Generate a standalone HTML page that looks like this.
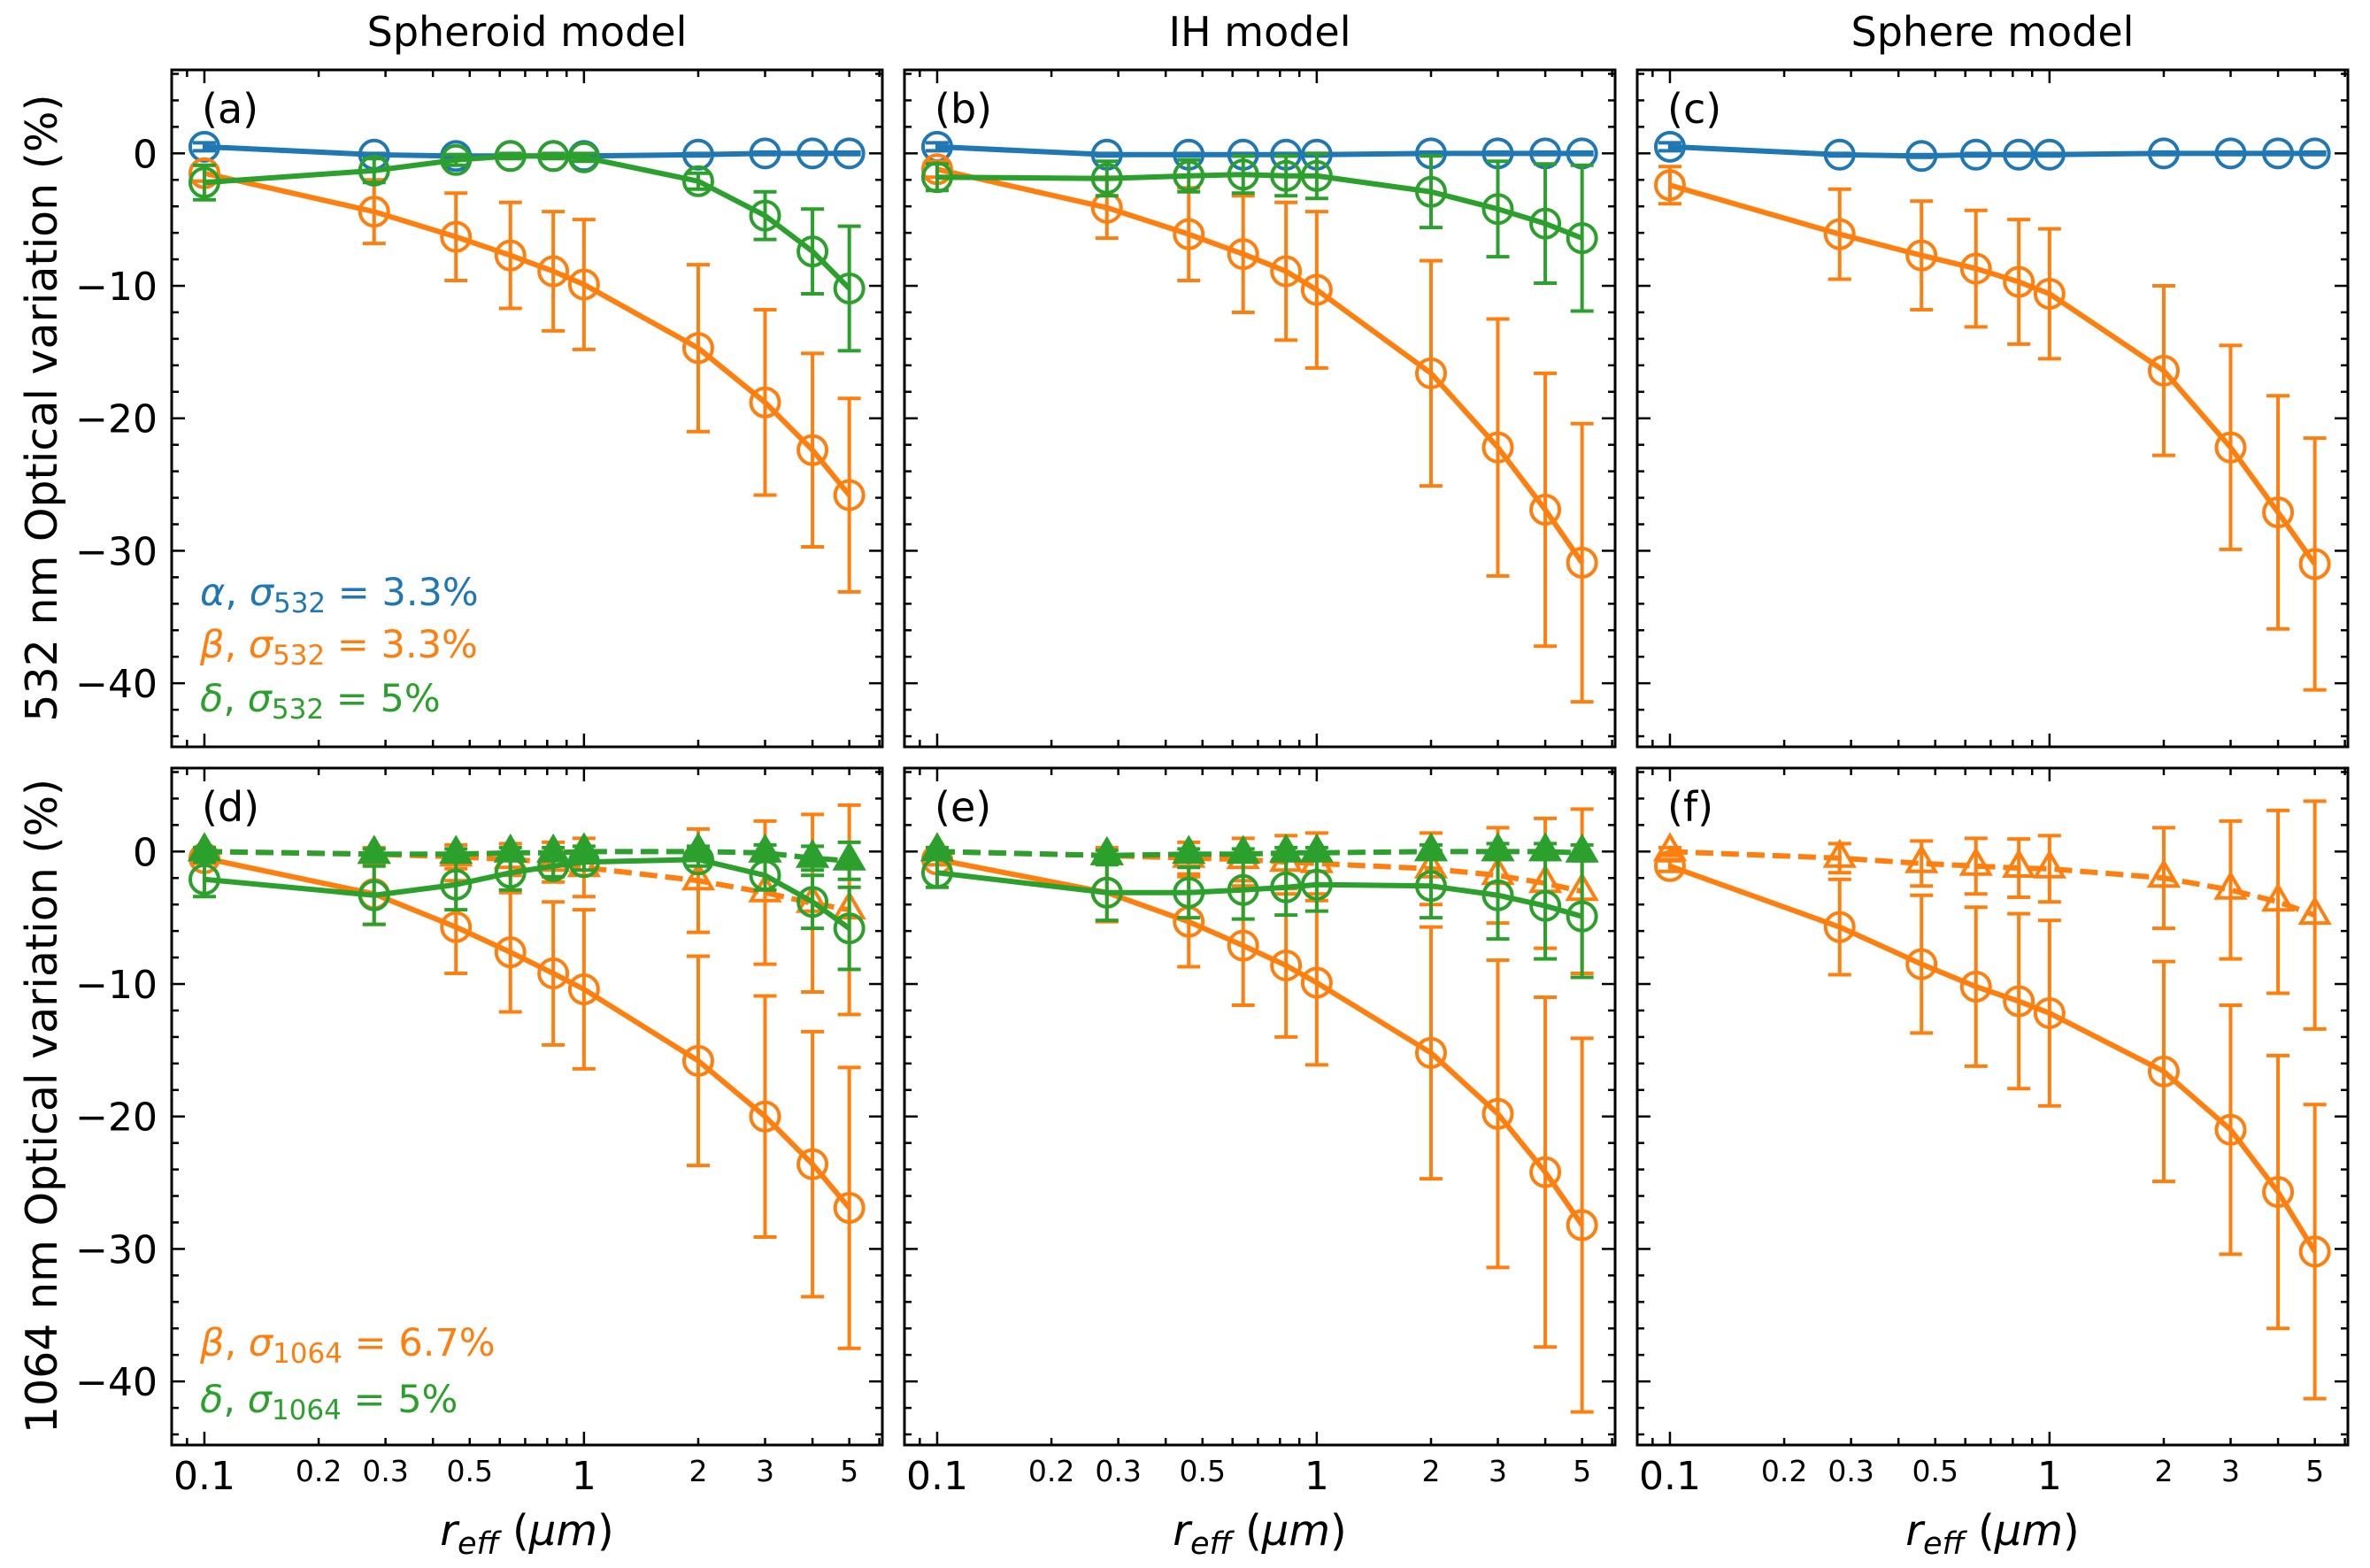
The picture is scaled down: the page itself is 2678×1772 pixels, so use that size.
<!DOCTYPE html>
<html><head><meta charset="utf-8">
<style>
html,body{margin:0;padding:0;background:#fff;}
svg{display:block;font-family:"DejaVu Sans","Liberation Sans",sans-serif;}
</style></head>
<body>
<svg id="fig" width="2678" height="1772" viewBox="0 0 2678 1772" xmlns="http://www.w3.org/2000/svg"></svg>
<script>
// ---- data ----
const rEff = [0.1, 0.28, 0.46, 0.64, 0.83, 1, 2, 3, 4, 5];
const xTickMajor = [0.1, 1];
const xTickMinorLabeled = [0.2, 0.3, 0.5, 2, 3, 5];
const xTickMinorLabels = ["0.2", "0.3", "0.5", "2", "3", "5"];
const xTickMajorLabels = ["0.1", "1"];
const yTickMajor = [0, -10, -20, -30, -40];
const yTickLabels = ["0", "\u221210", "\u221220", "\u221230", "\u221240"];

// panel a
const aAlpha = [0.5, -0.1, -0.2, -0.2, -0.2, -0.2, -0.1, 0, 0, 0];
const aAlphaErr = [0.3, 0.1, 0.1, 0.1, 0.1, 0.1, 0.1, 0.1, 0.1, 0.1];
const aBeta = [-1.5, -4.4, -6.3, -7.7, -8.9, -9.9, -14.7, -18.8, -22.4, -25.8];
const aBetaErr = [0.6, 2.4, 3.3, 4.0, 4.5, 4.9, 6.3, 7.0, 7.3, 7.3];
const aDelta = [-2.2, -1.3, -0.5, -0.2, -0.2, -0.3, -2.1, -4.7, -7.4, -10.2];
const aDeltaErr = [1.3, 0.9, 0.4, 0.2, 0.2, 0.3, 0.6, 1.8, 3.2, 4.7];
// panel b
const bAlpha = [0.5, -0.1, -0.1, -0.1, -0.1, -0.1, 0, 0, 0, 0];
const bAlphaErr = [0.3, 0.1, 0.1, 0.1, 0.1, 0.1, 0.1, 0.1, 0.1, 0.1];
const bBeta = [-1.2, -4.1, -6.1, -7.6, -8.9, -10.3, -16.6, -22.2, -26.9, -30.9];
const bBetaErr = [0.6, 2.3, 3.5, 4.4, 5.2, 5.9, 8.5, 9.7, 10.3, 10.5];
const bDelta = [-1.8, -1.9, -1.7, -1.6, -1.7, -1.7, -2.9, -4.2, -5.3, -6.4];
const bDeltaErr = [1.0, 1.3, 1.2, 1.4, 1.5, 1.7, 2.7, 3.6, 4.5, 5.5];
// panel c
const cAlpha = [0.5, -0.1, -0.2, -0.1, -0.1, -0.1, 0, 0, 0, 0];
const cAlphaErr = [0.3, 0.1, 0.1, 0.1, 0.1, 0.1, 0.1, 0.1, 0.1, 0.1];
const cBeta = [-2.4, -6.1, -7.7, -8.7, -9.7, -10.6, -16.4, -22.2, -27.1, -31.0];
const cBetaErr = [1.4, 3.4, 4.1, 4.4, 4.7, 4.9, 6.4, 7.7, 8.8, 9.5];
// panel d
const dBeta = [-0.5, -3.2, -5.7, -7.6, -9.2, -10.4, -15.8, -20.0, -23.6, -26.9];
const dBetaErr = [0.4, 2.3, 3.5, 4.5, 5.4, 6.0, 7.9, 9.1, 10.0, 10.6];
const dBetaD = [0, -0.2, -0.4, -0.6, -0.8, -1.2, -2.2, -3.1, -3.9, -4.4];
const dBetaDErr = [0.3, 0.5, 0.9, 1.2, 1.5, 2.2, 3.9, 5.4, 6.7, 7.9];
const dDelta = [-2.1, -3.3, -2.5, -1.6, -1.1, -0.8, -0.6, -1.8, -3.8, -5.8];
const dDeltaErr = [1.3, 2.2, 1.9, 1.3, 0.8, 0.6, 0.5, 1.1, 2.0, 3.1];
const dDeltaD = [0, -0.2, -0.2, -0.1, -0.1, 0, 0, -0.1, -0.5, -0.7];
const dDeltaDErr = [0.3, 0.4, 0.4, 0.4, 0.4, 0.4, 0.4, 0.6, 0.9, 1.4];
// panel e
const eBeta = [-0.6, -3.1, -5.3, -7.1, -8.6, -9.9, -15.2, -19.8, -24.2, -28.2];
const eBetaErr = [0.4, 2.2, 3.4, 4.5, 5.4, 6.2, 9.5, 11.6, 13.2, 14.1];
const eBetaD = [0, -0.3, -0.5, -0.6, -0.8, -0.9, -1.3, -1.8, -2.4, -3.0];
const eBetaDErr = [0.3, 0.6, 1.2, 1.6, 2.0, 2.3, 2.7, 3.6, 4.9, 6.2];
const eDelta = [-1.6, -3.1, -3.1, -2.9, -2.7, -2.5, -2.6, -3.3, -4.1, -4.9];
const eDeltaErr = [1.1, 2.1, 1.9, 2.2, 2.1, 2.0, 2.4, 3.3, 4.0, 4.6];
const eDeltaD = [0, -0.3, -0.2, -0.2, -0.1, -0.1, 0, 0, 0, -0.1];
const eDeltaDErr = [0.3, 0.4, 0.4, 0.4, 0.4, 0.4, 0.5, 0.6, 0.6, 0.6];
// panel f
const fBeta = [-1.1, -5.7, -8.5, -10.2, -11.3, -12.2, -16.6, -21.0, -25.7, -30.2];
const fBetaErr = [0.4, 3.6, 5.2, 6.0, 6.6, 7.0, 8.3, 9.4, 10.3, 11.1];
const fBetaD = [0, -0.5, -0.9, -1.1, -1.25, -1.3, -2.0, -2.9, -3.8, -4.8];
const fBetaDErr = [0.3, 1.1, 1.7, 2.1, 2.2, 2.5, 3.8, 5.2, 6.9, 8.6];

const BLUE = "#1f77b4", ORANGE = "#ff7f0e", GREEN = "#2ca02c";
const NS = "http://www.w3.org/2000/svg";
const svg = document.getElementById("fig");
function mk(tag, attrs, parent) {
  const e = document.createElementNS(NS, tag);
  for (const k in attrs) e.setAttribute(k, attrs[k]);
  (parent || svg).appendChild(e);
  return e;
}

const PW = 803, PH = 765;
const XMIN = Math.log10(0.0820), XMAX = Math.log10(6.11);
const YMIN = -44.8, YMAX = 6.3;

const panels = [
  {id: "a", x: 194, y: 79, row: 0, col: 0, series: [
    {name: "alpha", c: BLUE, y: aAlpha, e: aAlphaErr, m: "o", dash: false},
    {name: "beta", c: ORANGE, y: aBeta, e: aBetaErr, m: "o", dash: false},
    {name: "delta", c: GREEN, y: aDelta, e: aDeltaErr, m: "o", dash: false}]},
  {id: "b", x: 1022, y: 79, row: 0, col: 1, series: [
    {name: "alpha", c: BLUE, y: bAlpha, e: bAlphaErr, m: "o", dash: false},
    {name: "beta", c: ORANGE, y: bBeta, e: bBetaErr, m: "o", dash: false},
    {name: "delta", c: GREEN, y: bDelta, e: bDeltaErr, m: "o", dash: false}]},
  {id: "c", x: 1850, y: 79, row: 0, col: 2, series: [
    {name: "alpha", c: BLUE, y: cAlpha, e: cAlphaErr, m: "o", dash: false},
    {name: "beta", c: ORANGE, y: cBeta, e: cBetaErr, m: "o", dash: false}]},
  {id: "d", x: 194, y: 868, row: 1, col: 0, series: [
    {name: "beta", c: ORANGE, y: dBeta, e: dBetaErr, m: "o", dash: false},
    {name: "beta-dashed", c: ORANGE, y: dBetaD, e: dBetaDErr, m: "^", dash: true},
    {name: "delta", c: GREEN, y: dDelta, e: dDeltaErr, m: "o", dash: false},
    {name: "delta-dashed", c: GREEN, y: dDeltaD, e: dDeltaDErr, m: "^f", dash: true}]},
  {id: "e", x: 1022, y: 868, row: 1, col: 1, series: [
    {name: "beta", c: ORANGE, y: eBeta, e: eBetaErr, m: "o", dash: false},
    {name: "beta-dashed", c: ORANGE, y: eBetaD, e: eBetaDErr, m: "^", dash: true},
    {name: "delta", c: GREEN, y: eDelta, e: eDeltaErr, m: "o", dash: false},
    {name: "delta-dashed", c: GREEN, y: eDeltaD, e: eDeltaDErr, m: "^f", dash: true}]},
  {id: "f", x: 1850, y: 868, row: 1, col: 2, series: [
    {name: "beta", c: ORANGE, y: fBeta, e: fBetaErr, m: "o", dash: false},
    {name: "beta-dashed", c: ORANGE, y: fBetaD, e: fBetaDErr, m: "^", dash: true}]}
];

const titles = ["Spheroid model", "IH model", "Sphere model"];

panels.forEach(p => {
  const g = mk("g", {});
  
  
  const sx = v => p.x + (Math.log10(v) - XMIN) / (XMAX - XMIN) * PW;
  const sy = v => p.y + (YMAX - v) / (YMAX - YMIN) * PH;

  const tg = mk("g", {stroke: "#000", "stroke-width": 2.5}, g);
  
  
  const minorX = [0.09,0.2,0.3,0.4,0.5,0.6,0.7,0.8,0.9,2,3,4,5,6];
  minorX.forEach(v => {
    const X = sx(v);
    mk("line", {x1: X, x2: X, y1: p.y + PH, y2: p.y + PH - 8}, tg);
    mk("line", {x1: X, x2: X, y1: p.y, y2: p.y + 8}, tg);
  });
  xTickMajor.forEach(v => {
    const X = sx(v);
    mk("line", {x1: X, x2: X, y1: p.y + PH, y2: p.y + PH - 15}, tg);
    mk("line", {x1: X, x2: X, y1: p.y, y2: p.y + 15}, tg);
  });
  for (let v = 6; v >= -44; v -= 2) {
    const Y = sy(v);
    const L = (v % 10 === 0) ? 15 : 8;
    mk("line", {x1: p.x, x2: p.x + L, y1: Y, y2: Y}, tg);
    mk("line", {x1: p.x + PW, x2: p.x + PW - L, y1: Y, y2: Y}, tg);
  }

  p.series.forEach(s => {
    const sg = mk("g", {}, g);
    
    
    rEff.forEach((xv, i) => {
      const X = sx(xv), y1 = sy(s.y[i] + s.e[i]), y2 = sy(s.y[i] - s.e[i]);
      const eb = mk("path", {d: `M${X},${y1}V${y2}M${X-13},${y1}H${X+13}M${X-13},${y2}H${X+13}`,
        stroke: s.c, "stroke-width": 4, fill: "none"}, sg);
      
      
    });
    const pts = rEff.map((xv, i) => sx(xv) + "," + sy(s.y[i])).join(" ");
    const ln = mk("polyline", {points: pts, stroke: s.c, "stroke-width": 6, fill: "none",
      "stroke-linejoin": "round"}, sg);
    if (s.dash) ln.setAttribute("stroke-dasharray", "20,9");
    
    
    rEff.forEach((xv, i) => {
      const X = sx(xv), Y = sy(s.y[i]);
      let mkEl;
      if (s.m === "o") {
        mkEl = mk("circle", {cx: X, cy: Y, r: 16, fill: "none", stroke: s.c, "stroke-width": 4}, sg);
      } else {
        const r = 18;
        mkEl = mk("polygon", {points: `${X},${Y-r} ${X+r*0.87},${Y+r*0.5} ${X-r*0.87},${Y+r*0.5}`,
          fill: s.m === "^f" ? s.c : "none", stroke: s.c, "stroke-width": 4}, sg);
      }
      
      
    });
  });

  const fr = mk("rect", {x: p.x, y: p.y, width: PW, height: PH, fill: "none", stroke: "#000", "stroke-width": 3}, g);
  
  

  const pl = mk("text", {x: p.x + 34, y: p.y + 60, "font-size": 46}, g);
  pl.textContent = "(" + p.id + ")";
  
  

  if (p.col === 0) {
    yTickMajor.forEach((v, i) => {
      const t = mk("text", {x: p.x - 16, y: sy(v) + 16, "font-size": 44, "text-anchor": "end"}, g);
      t.textContent = yTickLabels[i];
      
      
    });
  }
  if (p.row === 1) {
    xTickMajor.forEach((v, i) => {
      const t = mk("text", {x: sx(v), y: 1683, "font-size": 44, "text-anchor": "middle"}, g);
      t.textContent = xTickMajorLabels[i];
      
      
    });
    xTickMinorLabeled.forEach((v, i) => {
      const t = mk("text", {x: sx(v), y: 1674, "font-size": 33, "text-anchor": "middle"}, g);
      t.textContent = xTickMinorLabels[i];
      
      
    });
    const xl = mk("text", {x: p.x + PW / 2, y: 1746, "font-size": 48, "text-anchor": "middle"}, g);
    xl.innerHTML = '<tspan font-style="italic">r</tspan><tspan font-style="italic" font-size="35" dy="10">eff</tspan><tspan dy="-10"> (</tspan><tspan font-style="italic">μm</tspan>)';
    
    
  } else {
    const tt = mk("text", {x: p.x + PW / 2, y: 52, "font-size": 46, "text-anchor": "middle"}, g);
    tt.textContent = titles[p.col];
    
    
  }
});

const yl1 = mk("text", {x: 0, y: 0, "font-size": 49, "text-anchor": "middle", transform: "translate(64,461) rotate(-90)"});
yl1.textContent = "532 nm Optical variation (%)";


const yl2 = mk("text", {x: 0, y: 0, "font-size": 49, "text-anchor": "middle", transform: "translate(64,1250) rotate(-90)"});
yl2.textContent = "1064 nm Optical variation (%)";



function legend(x, y, color, sym, sub, val, name) {
  const t = mk("text", {x: x, y: y, "font-size": 43, fill: color});
  t.innerHTML = '<tspan font-style="italic">' + sym + '</tspan>, <tspan font-style="italic">σ</tspan><tspan font-size="31" dy="8">' + sub + '</tspan><tspan dy="-8"> = ' + val + '</tspan>';
  
  
}
legend(226, 684, BLUE, "α", "532", "3.3%", "legend-alpha-532");
legend(226, 743, ORANGE, "β", "532", "3.3%", "legend-beta-532");
legend(226, 804, GREEN, "δ", "532", "5%", "legend-delta-532");
legend(226, 1532, ORANGE, "β", "1064", "6.7%", "legend-beta-1064");
legend(226, 1596, GREEN, "δ", "1064", "5%", "legend-delta-1064");
</script>
</body></html>
